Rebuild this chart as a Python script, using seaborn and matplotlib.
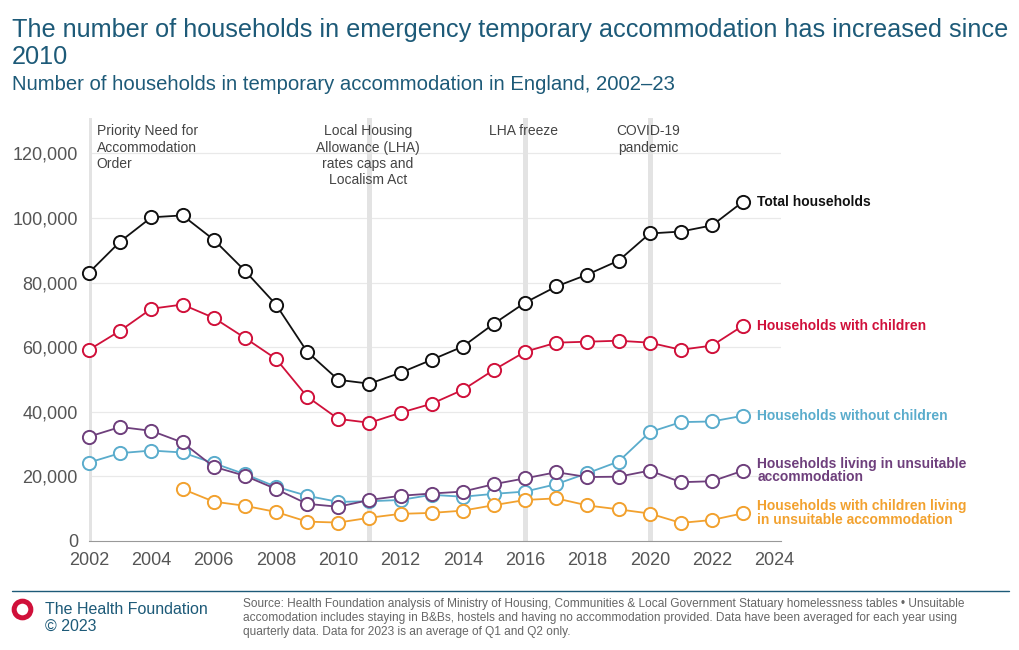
import numpy as np
import pandas as pd
import matplotlib
matplotlib.use("Agg")
import matplotlib.pyplot as plt
import seaborn as sns

years = list(range(2002, 2024))

total_households = [83100, 92700, 100200, 100800, 93300, 83700, 73200, 58600, 49900, 48700, 52100,
                    56100, 60200, 67300, 73800, 78800, 82500, 86800, 95200, 95800, 97700, 105100]
with_children = [59200, 65100, 71900, 73200, 69100, 62900, 56400, 44700, 37800, 36600, 39700,
                 42500, 46800, 53000, 58600, 61400, 61700, 62000, 61400, 59200, 60500, 66700]
without_children = [24300, 27200, 28000, 27400, 24100, 20700, 16800, 14000, 12100, 12300, 12700,
                    14300, 13700, 14600, 15300, 17600, 21000, 24600, 33700, 36800, 37000, 38800]
unsuitable = [32300, 35300, 34100, 30500, 23000, 20200, 16100, 11500, 10600, 12700, 14000,
              14700, 15300, 17600, 19400, 21300, 19800, 19900, 21800, 18200, 18500, 21800]
children_unsuitable = [np.nan, np.nan, np.nan, 16100, 12200, 10900, 9000, 6000, 5700, 7200, 8400,
                       8700, 9400, 11100, 12700, 13200, 11000, 9800, 8500, 5600, 6500, 8600]

series_names = ["Total households", "Households with children", "Households without children",
                "Households living in unsuitable\naccommodation",
                "Households with children living\nin unsuitable accommodation"]
series_colors = ["#111111", "#d0103a", "#5aaccc", "#6e3f7c", "#f2a12e"]

events = [2002, 2011, 2016, 2020]
event_labels = ["Priority Need for\nAccommodation\nOrder",
                "Local Housing\nAllowance (LHA)\nrates caps and\nLocalism Act",
                "LHA freeze", "COVID-19\npandemic"]

sns.set_style("white")
plt.rcParams["font.family"] = ["Liberation Sans", "DejaVu Sans"]

teal = "#1d5a78"
grey_text = "#555555"

fig = plt.figure(figsize=(10.2, 6.5), dpi=100)
ax = fig.add_axes([0.0873, 0.1677, 0.678, 0.651])

for yv in [20000, 40000, 60000, 80000, 100000, 120000]:
    ax.axhline(yv, color="#e9e9e9", lw=0.9, zorder=0)
for ev in events:
    ax.axvline(ev, color="#e3e3e3", lw=3.6, zorder=1)

all_series = [total_households, with_children, without_children, unsuitable, children_unsuitable]
for vals, name, col in zip(all_series, series_names, series_colors):
    df = pd.DataFrame({"year": years, "value": vals}).dropna()
    sns.lineplot(data=df, x="year", y="value", ax=ax, color=col, lw=1.3, marker="o",
                 markersize=9.5, markerfacecolor="white", markeredgecolor=col,
                 markeredgewidth=1.4, zorder=3, clip_on=False)
    ax.text(2023.45, df["value"].iloc[-1], name, color=col, fontsize=10,
            fontweight="bold", va="center", ha="left", linespacing=0.95, clip_on=False)

# event annotations
ax.text(2002.25, 129000, event_labels[0], ha="left", va="top", fontsize=10,
        color="#444444", linespacing=1.2)
for ev, lab in zip(events[1:], event_labels[1:]):
    ax.text(ev - 0.05, 129000, lab, ha="center", va="top", fontsize=10,
            color="#444444", linespacing=1.2)

ax.set_xlim(2002, 2024.2)
ax.set_ylim(0, 131000)
ax.set_xticks(range(2002, 2025, 2))
ax.set_yticks(range(0, 120001, 20000))
ax.yaxis.set_major_formatter(matplotlib.ticker.FuncFormatter(lambda v, p: f"{int(v):,}"))
ax.tick_params(axis="x", colors=grey_text, labelsize=13, length=5, width=0.8,
               direction="out", color="#999999", pad=3)
ax.tick_params(axis="y", colors=grey_text, labelsize=13, length=0, pad=8)
ax.set_xlabel("")
ax.set_ylabel("")
for s in ["top", "right", "left"]:
    ax.spines[s].set_visible(False)
ax.spines["bottom"].set_color("#999999")
ax.spines["bottom"].set_linewidth(0.8)

# titles
fig.text(0.012, 0.973, "The number of households in emergency temporary accommodation has increased since\n2010",
         ha="left", va="top", fontsize=18.2, color=teal, linespacing=1.2)
fig.text(0.012, 0.884, "Number of households in temporary accommodation in England, 2002\u201323",
         ha="left", va="top", fontsize=14.6, color=teal)

# footer
fig.add_artist(plt.Line2D([0.012, 0.989], [0.091, 0.091], color=teal, lw=1.0))
fig.add_artist(plt.Line2D([0.0215], [0.063], marker="o", markersize=12, markerfacecolor="none",
                          markeredgecolor="#d0103a", markeredgewidth=3.6, transform=fig.transFigure))
fig.text(0.044, 0.063, "The Health Foundation", ha="left", va="center", fontsize=11.5, color=teal)
fig.text(0.044, 0.036, "\u00a9 2023", ha="left", va="center", fontsize=11.5, color=teal)
fig.text(0.238, 0.080,
         "Source: Health Foundation analysis of Ministry of Housing, Communities & Local Government Statuary homelessness tables \u2022 Unsuitable\n"
         "accomodation includes staying in B&Bs, hostels and having no accommodation provided. Data have been averaged for each year using\n"
         "quarterly data. Data for 2023 is an average of Q1 and Q2 only.",
         ha="left", va="top", fontsize=8.6, color="#666666", linespacing=1.2)

fig.savefig("out.png", dpi=100)
